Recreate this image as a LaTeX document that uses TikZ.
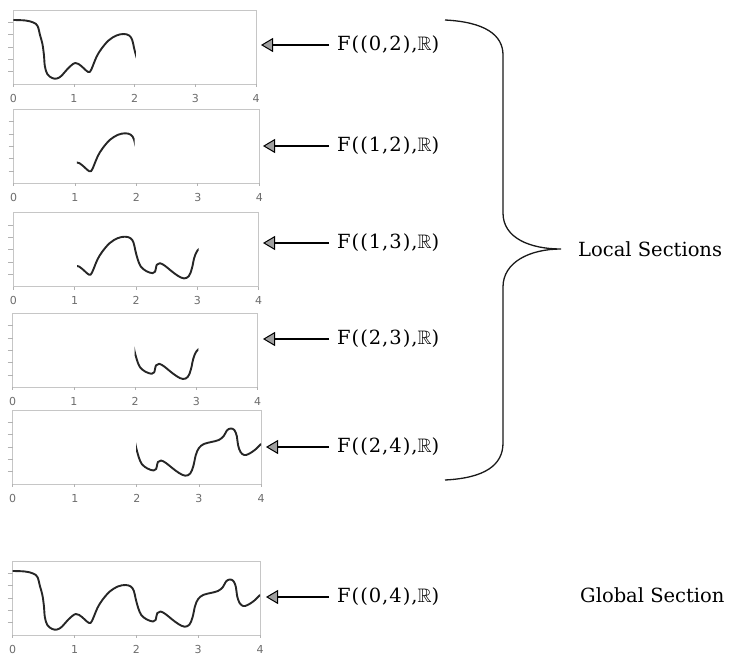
\documentclass[tikz,border=0pt]{standalone}
\usepackage{amssymb}
\usepackage{fontspec}
\setmainfont{DejaVu Serif}
\newfontfamily\labfont[LetterSpace=5]{DejaVu Serif}
\newfontfamily\ticksf{DejaVu Sans}
\usetikzlibrary{arrows.meta}
\newcommand\drawpanel[5]{%
  \pgfmathsetmacro\punit{(#2-#1)/4}%
  \begin{scope}[shift={(#1,#3)}, xscale=\punit]
    \draw[frame] (0,0) rectangle (4,74);
    \draw[tick] (0,74) -- (0,77);
    \foreach \k in {1,...,5} {\draw[tick] (-5/\punit,74-\k*74/6) -- (0,74-\k*74/6);}
    \foreach \i in {0,...,4} {\draw[tick] (\i,74) -- (\i,77); \node[ticklab] at (\i,88) {\i};}
    \begin{scope}
      \clip (#4,-10) rectangle (#5,90);
      \draw[curve] plot[smooth,tension=0.6] coordinates {(0,10) (0.2,10.5) (0.33,12.5) (0.40,16) (0.44,25) (0.48,34) (0.505,45) (0.52,56) (0.56,64) (0.64,68) (0.72,68.5) (0.80,65.5) (0.90,58.5) (1.02,53) (1.12,56) (1.20,60.5) (1.26,62) (1.31,56) (1.37,47) (1.45,39) (1.57,30.5) (1.70,25.5) (1.82,24) (1.91,25.5) (1.96,30) (1.99,38) (2.03,47) (2.08,54) (2.17,58.5) (2.27,60.5) (2.31,59) (2.34,52) (2.39,50.5) (2.47,53) (2.57,58) (2.68,63) (2.78,65.7) (2.86,63.5) (2.91,56) (2.95,45) (3.0,38) (3.08,34) (3.20,32) (3.32,30) (3.40,26) (3.45,20.5) (3.51,18.5) (3.57,20) (3.61,26) (3.63,35) (3.67,42) (3.73,45) (3.80,44) (3.90,40) (4.0,34)};
    \end{scope}
  \end{scope}}
\begin{document}
\begin{tikzpicture}[x=1pt,y=-1pt,
  frame/.style={draw=gray!45, line width=0.8pt},
  tick/.style={draw=gray!60, line width=0.8pt},
  ticklab/.style={font=\ticksf\fontsize{11}{13}\selectfont, text=gray!85!black, inner sep=0pt},
  curve/.style={line width=1.9pt, draw=black!85, line cap=round, line join=round},
  lab/.style={font=\labfont\fontsize{19.5}{23}\selectfont, anchor=west, inner xsep=8pt, inner ysep=0pt},
  arr/.style={line width=1.6pt, -{Triangle[length=12pt,width=14pt,fill=gray!75,line width=1pt]}},
  side/.style={font=\fontsize{19.5}{23}\selectfont, anchor=west, inner sep=0pt},
  brace/.style={line width=1.3pt, draw=black!90}]
\useasboundingbox (0,0) rectangle (734,658);
\drawpanel{13.3}{256}{10}{0}{2.02}
\drawpanel{13.5}{259.3}{109.3}{1.03}{1.97}
\drawpanel{13.3}{258.7}{212.7}{1.04}{3.02}
\drawpanel{12.7}{257.7}{313.3}{1.99}{3.03}
\drawpanel{12.7}{261}{410}{1.99}{4.0}
\drawpanel{12.7}{260}{561}{0}{4}
% labels and arrows
\node[lab] (l1) at (329,45) {F((0,2),$\mathbb{R}$)};
\node[lab] (l2) at (329,146) {F((1,2),$\mathbb{R}$)};
\node[lab] (l3) at (329,243) {F((1,3),$\mathbb{R}$)};
\node[lab] (l4) at (329,339) {F((2,3),$\mathbb{R}$)};
\node[lab] (l5) at (329,447) {F((2,4),$\mathbb{R}$)};
\node[lab] (l6) at (329,597) {F((0,4),$\mathbb{R}$)};
\coordinate (t1) at (261,45);
\coordinate (t2) at (263,146);
\coordinate (t3) at (263,243);
\coordinate (t4) at (263,339);
\coordinate (t5) at (266,447);
\coordinate (t6) at (266,597);
\foreach \i in {1,...,6} {\draw[arr] (l\i.west) -- (t\i);}
% brace
\coordinate (bt) at (445,20);
\coordinate (bb) at (445,480);
\coordinate (btip) at (561,249);
\draw[brace] (bt) .. controls (485,22) and (503,35) .. (503,55) -- (503,213)
  .. controls (503,238) and (530,249) .. (btip)
  .. controls (530,249) and (503,262) .. (503,287) -- (503,443)
  .. controls (503,465) and (485,478) .. (bb);
\node[side] (loc) at (578,249) {Local Sections};
\node[side] (glob) at (580,595) {Global Section};
\end{tikzpicture}
\end{document}
